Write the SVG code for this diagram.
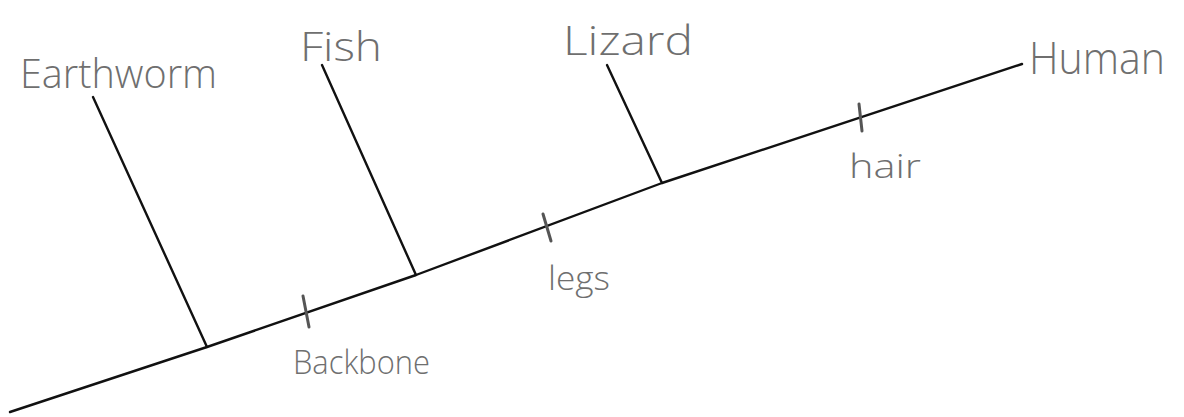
<svg xmlns="http://www.w3.org/2000/svg" width="1184" height="417" viewBox="0 0 1184 417">
<style>
.ln{stroke:#111;stroke-width:2.4;fill:none;stroke-linecap:round;stroke-linejoin:round}
.tk{stroke:#555;stroke-width:3;stroke-linecap:round}
.lb{font-family:"Open Sans","Liberation Sans","DejaVu Sans",sans-serif;font-weight:300;fill:#6f6f6f;font-size:40px}
.tr{font-family:"Open Sans","Liberation Sans","DejaVu Sans",sans-serif;font-weight:300;fill:#6f6f6f;font-size:33px}
</style>
<rect width="1184" height="417" fill="#fff"/>
<g id="connectors">
<polyline class="ln" points="10,412 207,347 416,275 662,183 1022,64"/>
<line class="ln" x1="93" y1="97" x2="207" y2="347"/>
<line class="ln" x1="322" y1="65" x2="416" y2="275"/>
<line class="ln" x1="607" y1="65" x2="662" y2="183"/>
</g>
<g id="earthworm"><text class="lb" x="20" y="88" textLength="197" lengthAdjust="spacingAndGlyphs">Earthworm</text></g>
<g id="fish"><text class="lb" x="300" y="61" textLength="82" lengthAdjust="spacingAndGlyphs">Fish</text></g>
<g id="lizard"><text class="lb" x="563" y="55" textLength="130" lengthAdjust="spacingAndGlyphs">Lizard</text></g>
<g id="human"><text class="lb" x="1029" y="74" textLength="136" lengthAdjust="spacingAndGlyphs" style="font-size:44px">Human</text></g>
<g id="backbone"><line class="tk" x1="303" y1="296" x2="309" y2="327"/><text class="tr" x="293" y="374" textLength="137" lengthAdjust="spacingAndGlyphs">Backbone</text></g>
<g id="legs"><line class="tk" x1="543" y1="214" x2="551" y2="241"/><text class="tr" x="548" y="290" textLength="62" lengthAdjust="spacingAndGlyphs">legs</text></g>
<g id="hair"><line class="tk" x1="859" y1="104" x2="862" y2="131"/><text class="tr" x="849" y="178" textLength="72" lengthAdjust="spacingAndGlyphs">hair</text></g>
</svg>
